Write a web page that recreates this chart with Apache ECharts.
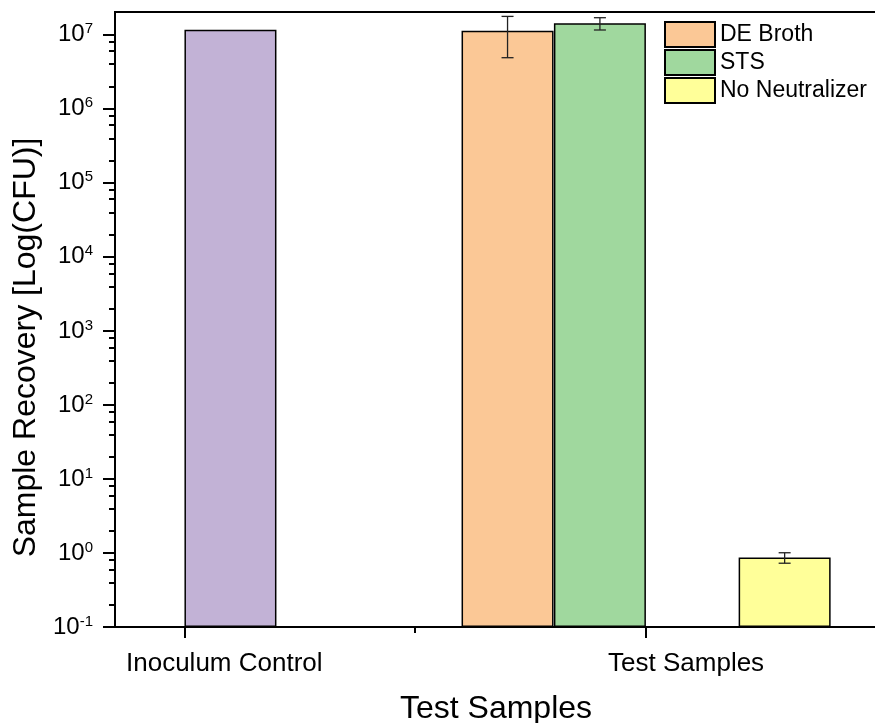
<!DOCTYPE html>
<html>
<head>
<meta charset="utf-8">
<script src="https://cdn.jsdelivr.net/npm/echarts@6/dist/echarts.min.js"></script>
<style>
  html, body { margin: 0; padding: 0; background: #fff; }
  #main { width: 875px; height: 723px; }
</style>
</head>
<body>
<div id="main"></div>
<script>
// x positions on the numeric x axis: 1 = Inoculum Control, 2 = Test Samples
var groupTicks = [1, 2];
var groupLabels = ['Inoculum Control', 'Test Samples'];

var controlName = 'Inoculum Control';
var controlX = 1.1;
var controlValue = 1.17e7;

var testNames = ['DE Broth', 'STS', 'No Neutralizer'];
var testX = [1.7, 1.9, 2.3];
var testValues = [1.13e7, 1.43e7, 0.867];
var testSD = [6.4e6, 2.7e6, 0.14];

var colors = {
  'Inoculum Control': '#C2B2D6',
  'DE Broth': '#FBC896',
  'STS': '#A0D89E',
  'No Neutralizer': '#FFFF99'
};

var yMajor = [0.1, 1, 10, 100, 1e3, 1e4, 1e5, 1e6, 1e7];
var yMinor = [];
yMajor.slice(0, -1).forEach(function (d) {
  [2, 4, 6, 8].forEach(function (m) { yMinor.push(+(m * d).toPrecision(3)); });
});

var FONT = '"Liberation Sans", Arial, sans-serif';

var myChart = echarts.init(document.getElementById('main'));

var series = [];
series.push({
  name: controlName,
  type: 'bar',
  barWidth: 92,
  barGap: '-100%',
  itemStyle: { color: colors[controlName], borderColor: '#000', borderWidth: 1.5 },
  data: [[controlX, controlValue]],
  z: 2
});
testNames.forEach(function (name, i) {
  series.push({
    name: name,
    type: 'bar',
    barWidth: 92,
    barGap: '-100%',
    itemStyle: { color: colors[name], borderColor: '#000', borderWidth: 1.5 },
    data: [[testX[i], testValues[i]]],
    z: 2
  });
});

var errData = testNames.map(function (name, i) {
  return [testX[i], testValues[i] - testSD[i], testValues[i] + testSD[i]];
});
series.push({
  name: 'err',
  type: 'custom',
  z: 5,
  encode: { x: 0, y: [1, 2] },
  data: errData,
  renderItem: function (params, api) {
    var x = api.value(0);
    var lo = api.coord([x, api.value(1)]);
    var hi = api.coord([x, api.value(2)]);
    var w = 6;
    var style = { stroke: '#222', lineWidth: 1.3 };
    return {
      type: 'group',
      children: [
        { type: 'line', shape: { x1: lo[0], y1: lo[1], x2: hi[0], y2: hi[1] }, style: style },
        { type: 'line', shape: { x1: hi[0] - w, y1: hi[1], x2: hi[0] + w, y2: hi[1] }, style: style },
        { type: 'line', shape: { x1: lo[0] - w, y1: lo[1], x2: lo[0] + w, y2: lo[1] }, style: style }
      ]
    };
  }
});

var option = {
  backgroundColor: '#fff',
  animation: false,
  textStyle: { fontFamily: FONT, color: '#000' },
  grid: {
    left: 115, top: 12, width: 762, height: 615,
    outerBoundsMode: 'none',
    containLabel: false,
    show: true, borderColor: '#000', borderWidth: 2, backgroundColor: 'transparent'
  },
  legend: {
    data: testNames,
    orient: 'vertical',
    left: 664, top: 21,
    padding: 0,
    itemWidth: 50, itemHeight: 25,
    itemGap: 1,
    icon: 'rect',
    textStyle: { fontFamily: FONT, fontSize: 23, lineHeight: 25, color: '#000' }
  },
  xAxis: [{
    type: 'value',
    min: 0.85, max: 2.5,
    name: 'Test Samples',
    nameLocation: 'middle',
    nameGap: 66,
    nameTextStyle: { fontFamily: FONT, fontSize: 32, color: '#000' },
    splitLine: { show: false },
    axisLine: { lineStyle: { color: '#000', width: 2 } },
    axisTick: { customValues: groupTicks, length: 11, lineStyle: { color: '#000', width: 2 } },
    axisLabel: {
      customValues: groupTicks,
      margin: 24,
      fontFamily: FONT, fontSize: 26, color: '#000',
      padding: [0, 0, 0, 80],
      formatter: function (v) { return groupLabels[groupTicks.indexOf(v)] || ''; }
    }
  }, {
    type: 'value',
    min: 0.85, max: 2.5,
    position: 'bottom',
    splitLine: { show: false },
    axisLine: { show: false },
    axisTick: { customValues: [1.5], length: 6, lineStyle: { color: '#000', width: 2 } },
    axisLabel: { show: false }
  }],
  yAxis: [{
    type: 'log',
    logBase: 10,
    min: 0.1, max: 2.03e7,
    startValue: 0.1,
    name: 'Sample Recovery [Log(CFU)]',
    nameLocation: 'middle',
    nameGap: 72,
    nameTextStyle: { fontFamily: FONT, fontSize: 32, color: '#000', padding: [0, 56, 0, 0] },
    splitLine: { show: false },
    axisLine: { show: true, lineStyle: { color: '#000', width: 2 } },
    axisTick: { customValues: yMajor, length: 12, lineStyle: { color: '#000', width: 2 } },
    axisLabel: {
      customValues: yMajor,
      margin: 22,
      formatter: function (v) {
        var e = Math.round(Math.log10(v));
        return '{b|10}{s|' + e + '}';
      },
      rich: {
        b: { fontFamily: FONT, fontSize: 24, lineHeight: 26, color: '#000' },
        s: { fontFamily: FONT, fontSize: 15, lineHeight: 16, verticalAlign: 'top', color: '#000' }
      }
    }
  }, {
    type: 'log',
    logBase: 10,
    min: 0.1, max: 2.03e7,
    position: 'left',
    splitLine: { show: false },
    axisLine: { show: false },
    axisTick: { customValues: yMinor, length: 6, lineStyle: { color: '#000', width: 2 } },
    axisLabel: { show: false }
  }],
  series: series
};

myChart.setOption(option);
</script>
</body>
</html>
